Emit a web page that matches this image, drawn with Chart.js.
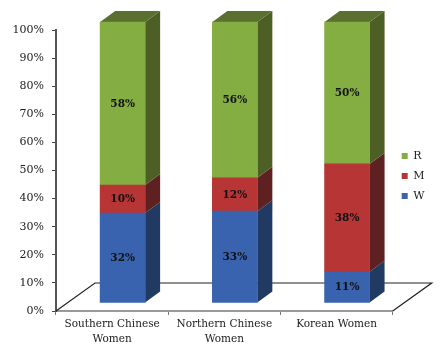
<!DOCTYPE html>
<html><head><meta charset="utf-8">
<style>html,body{margin:0;padding:0;background:#fff}#w{width:447px;height:352px;position:relative}canvas{filter:blur(0.35px)}</style>
<script src="https://cdn.jsdelivr.net/npm/chart.js@4"></script></head>
<body><div id="w"><canvas id="c" width="447" height="352"></canvas></div>
<script>
const categories = [['Southern Chinese','Women'],['Northern Chinese','Women'],'Korean Women'];
const W = [32,33,11];
const M = [10,12,38];
const R = [58,56,50];
const yTicks = [0,10,20,30,40,50,60,70,80,90,100];
const totals = W.map((v,i)=>v+M[i]+R[i]);
const share = a => a.map((v,i)=>v/totals[i]*100);
const raw = [W,M,R];
const FRONT = {x:10.5,y:-8}, BACK = {x:25.5,y:-19}, FLOOR = {x:39,y:-28};
const sideCol = ['#213A63','#5E2020','#4D5F25'];
const topCol = '#5A7030';
const poly = (ctx,pts,col)=>{ctx.fillStyle=col;ctx.beginPath();pts.forEach((p,i)=>i?ctx.lineTo(p[0],p[1]):ctx.moveTo(p[0],p[1]));ctx.closePath();ctx.fill();};
const depth = {
  id:'depth',
  afterLayout(ch){
    ch.legend.top-=15;ch.legend.bottom-=15;
  },
  beforeDatasetsDraw(ch){
    const c=ch.ctx,a=ch.chartArea;
    c.save();
    c.strokeStyle='#222';c.lineWidth=1.2;
    c.beginPath();c.moveTo(a.left,a.bottom);c.lineTo(a.left+FLOOR.x,a.bottom+FLOOR.y);
    c.lineTo(a.right+FLOOR.x,a.bottom+FLOOR.y);c.lineTo(a.right,a.bottom);c.stroke();
    ch.data.datasets.forEach((d,di)=>{
      ch.getDatasetMeta(di).data.forEach(el=>{
        const r=el.x+el.width/2+FRONT.x, dx=BACK.x-FRONT.x, dy=BACK.y-FRONT.y;
        const t=el.y+FRONT.y, b=el.base+FRONT.y;
        poly(c,[[r,t],[r+dx,t+dy],[r+dx,b+dy],[r,b]],sideCol[di]);
        if(di===ch.data.datasets.length-1){
          const l=el.x-el.width/2+FRONT.x;
          poly(c,[[l,t],[l+dx,t+dy],[r+dx,t+dy],[r,t]],topCol);
        }
      });
    });
    c.restore();
    c.save();c.translate(FRONT.x,FRONT.y);
  },
  afterDatasetsDraw(ch){
    const c=ch.ctx;
    c.restore();
    c.save();
    c.font='bold 10.5px "DejaVu Serif"';c.fillStyle='#111';c.textAlign='center';c.textBaseline='middle';
    ch.data.datasets.forEach((d,di)=>{
      ch.getDatasetMeta(di).data.forEach((el,i)=>{
        c.fillText(raw[di][i]+'%',el.x+FRONT.x,(el.y+el.base)/2+FRONT.y+0.5);
      });
    });
    c.restore();
  }
};
new Chart(document.getElementById('c'),{
  type:'bar',
  data:{labels:categories,datasets:[
    {label:'W',data:share(W),backgroundColor:'#3963AF',clip:false},
    {label:'M',data:share(M),backgroundColor:'#B73535',clip:false},
    {label:'R',data:share(R),backgroundColor:'#84AD42',clip:false}
  ]},
  plugins:[depth],
  options:{
    responsive:false,animation:false,
    barThickness:45,
    layout:{padding:{top:30,right:12.5,left:0,bottom:0}},
    plugins:{
      tooltip:{enabled:false},
      title:{display:false},
      legend:{position:'right',reverse:true,
        labels:{boxWidth:6,boxHeight:6,padding:9,color:'#222',font:{family:'"DejaVu Serif"',size:11}}}
    },
    scales:{
      x:{stacked:true,
        afterFit(s){s.height=41;},
        grid:{drawOnChartArea:false,drawTicks:true,tickLength:4,color:'#777',tickWidth:1},
        border:{color:'#999',width:2},
        ticks:{color:'#222',maxRotation:0,padding:2,font:{family:'"DejaVu Serif"',size:10.5,lineHeight:1.4}}
      },
      y:{stacked:true,min:0,max:100,
        afterFit(s){s.width=56;},
        afterBuildTicks(s){s.ticks=yTicks.map(v=>({value:v}));},
        grid:{drawOnChartArea:false,drawTicks:true,tickLength:4,color:'#444'},
        border:{color:'#555',width:2},
        ticks:{color:'#222',padding:8,callback:v=>v+'%',font:{family:'"DejaVu Serif"',size:11}}
      }
    }
  }
});
</script></body></html>
